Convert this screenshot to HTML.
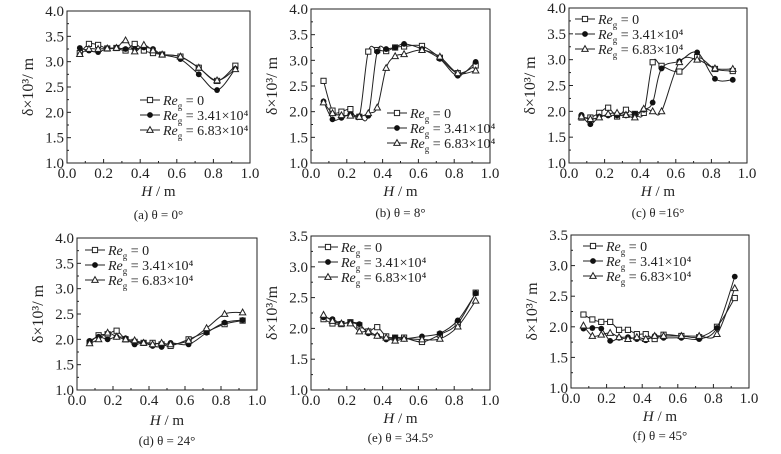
<!DOCTYPE html>
<html><head><meta charset="utf-8"><style>
body{margin:0;background:#fff}
svg{display:block;font-family:"Liberation Serif",serif}
</style></head><body>
<svg id="fig" width="781" height="454" viewBox="0 0 781 454"></svg>
<script>
const xVals=[0.07,0.12,0.17,0.22,0.27,0.32,0.37,0.42,0.47,0.52,0.62,0.72,0.82,0.92];
const xTicks=["0.0","0.2","0.4","0.6","0.8","1.0"];
const aS0=[3.17,3.35,3.33,3.26,3.27,3.22,3.35,3.22,3.17,3.14,3.10,2.88,2.62,2.92];
const aS1=[3.27,3.22,3.19,3.26,3.27,3.25,3.25,3.28,3.25,3.14,3.05,2.75,2.44,2.86];
const aS2=[3.15,3.25,3.25,3.26,3.27,3.42,3.20,3.33,3.22,3.14,3.10,2.88,2.63,2.85];
const bS0=[2.60,2.02,2.00,2.05,1.90,3.17,3.20,3.18,3.25,3.27,3.28,3.05,2.75,2.90];
const bS1=[2.20,1.85,1.88,1.95,1.90,1.92,3.17,3.22,3.25,3.32,3.22,3.03,2.70,2.97];
const bS2=[2.18,1.97,1.93,1.92,1.90,1.97,2.08,2.85,3.08,3.12,3.20,3.07,2.75,2.80];
const cS0=[1.88,1.88,1.97,2.07,1.90,2.03,1.95,1.97,2.95,2.88,2.77,3.05,2.82,2.78];
const cS1=[1.93,1.75,1.90,1.92,1.92,1.92,1.95,2.03,2.17,2.83,2.97,3.14,2.63,2.61];
const cS2=[1.90,1.85,1.88,1.95,1.97,1.93,1.88,2.05,2.00,2.00,2.95,3.00,2.83,2.82];
const dS0=[1.93,2.08,2.10,2.17,2.00,1.95,1.93,1.93,1.90,1.87,2.00,2.15,2.30,2.37];
const dS1=[1.97,2.05,2.00,2.05,2.02,1.90,1.93,1.87,1.85,1.93,1.90,2.13,2.33,2.38];
const dS2=[1.92,2.00,2.13,2.05,2.00,1.98,1.93,1.90,1.93,1.90,1.97,2.22,2.50,2.53];
const eS0=[2.15,2.08,2.07,2.10,2.05,1.95,2.02,1.87,1.85,1.85,1.78,1.90,2.08,2.58];
const eS1=[2.18,2.15,2.08,2.10,2.07,1.92,1.88,1.82,1.85,1.83,1.87,1.92,2.13,2.57];
const eS2=[2.22,2.12,2.08,2.08,1.95,1.95,1.88,1.85,1.80,1.83,1.82,1.83,2.03,2.45];
const fS0=[2.20,2.12,2.08,2.08,1.95,1.95,1.88,1.88,1.80,1.87,1.85,1.83,2.00,2.47];
const fS1=[1.97,1.98,1.97,1.77,1.82,1.83,1.80,1.78,1.85,1.82,1.82,1.80,1.98,2.82];
const fS2=[2.02,1.85,1.87,1.90,1.83,1.80,1.83,1.80,1.85,1.85,1.85,1.85,1.88,2.63];
const yTicks4=["1.0","1.5","2.0","2.5","3.0","3.5","4.0"];
const yTicks35=["1.0","1.5","2.0","2.5","3.0","3.5"];

const NS="http://www.w3.org/2000/svg";
const svg=document.getElementById('fig');
function mk(t,a,p){const e=document.createElementNS(NS,t);for(const k in a)e.setAttribute(k,a[k]);(p||svg).appendChild(e);return e;}

const panels=[
 {id:'a',L:67,R:250,T:11,B:163,ymax:4,yt:yTicks4,s:[aS0,aS1,aS2],lg:[140,100],cap:'(a) θ = 0°',ty:196,cy:219,yl:'δ×10³/ m'},
 {id:'b',L:311,R:490,T:9,B:163,ymax:4,yt:yTicks4,s:[bS0,bS1,bS2],lg:[387,113],cap:'(b) θ = 8°',ty:196,cy:217,yl:'δ×10³/ m'},
 {id:'c',L:569,R:747,T:8,B:163,ymax:4,yt:yTicks4,s:[cS0,cS1,cS2],lg:[575,19],cap:'(c) θ =16°',ty:196,cy:217,yl:'δ×10³/ m'},
 {id:'d',L:77,R:257,T:238,B:390,ymax:4,yt:yTicks4,s:[dS0,dS1,dS2],lg:[85,250],cap:'(d) θ = 24°',ty:425,cy:445,yl:'δ×10³/ m'},
 {id:'e',L:311,R:490,T:236,B:390,ymax:3.5,yt:yTicks35,s:[eS0,eS1,eS2],lg:[318,247],cap:'(e) θ = 34.5°',ty:423,cy:442,yl:'δ×10³/m'},
 {id:'f',L:571,R:749,T:235,B:388,ymax:3.5,yt:yTicks35,s:[fS0,fS1,fS2],lg:[583,246],cap:'(f) θ = 45°',ty:421,cy:440,yl:'δ×10³/ m'}
];
const labels=['0','3.41×10⁴','6.83×10⁴'];

function marker(g,k,x,y){
 let m;
 if(k===0)m=mk('rect',{x:x-2.6,y:y-2.6,width:5.2,height:5.2,fill:'#fff',stroke:'#222','stroke-width':1},g);
 else if(k===1)m=mk('circle',{cx:x,cy:y,r:2.9,fill:'#111'},g);
 else m=mk('polygon',{points:`${x},${y-3.4} ${x-3.2},${y+2.4} ${x+3.2},${y+2.4}`,fill:'#fff',stroke:'#222','stroke-width':1},g);
 
 
}
function spline(pts){
 let d=`M${pts[0][0]},${pts[0][1]}`;
 for(let i=0;i<pts.length-1;i++){
  const p0=pts[Math.max(0,i-1)],p1=pts[i],p2=pts[i+1],p3=pts[Math.min(pts.length-1,i+2)];
  const c1x=p1[0]+(p2[0]-p0[0])/6,c1y=p1[1]+(p2[1]-p0[1])/6;
  const c2x=p2[0]-(p3[0]-p1[0])/6,c2y=p2[1]-(p3[1]-p1[1])/6;
  d+=` C${c1x},${c1y} ${c2x},${c2y} ${p2[0]},${p2[1]}`;
 }
 return d;
}

panels.forEach(P=>{
 const g=mk('g',{});
 
 
 const sx=v=>P.L+(P.R-P.L)*v;
 const sy=v=>P.B-(P.B-P.T)*(v-1)/(P.ymax-1);
 const fr=mk('rect',{x:P.L,y:P.T,width:P.R-P.L,height:P.B-P.T,fill:'none',stroke:'#222','stroke-width':1},g);
 
 
 xTicks.forEach((t,i)=>{
  const x=sx(i*0.2);
  mk('line',{x1:x,y1:P.B,x2:x,y2:P.B-4,stroke:'#222'},g);
  if(i<5)mk('line',{x1:sx(i*0.2+0.1),y1:P.B,x2:sx(i*0.2+0.1),y2:P.B-2,stroke:'#222'},g);
  const tx=mk('text',{x:x,y:P.B+15,'font-size':15,'text-anchor':'middle',fill:'#222'},g);
  tx.textContent=t;
  
  
 });
 P.yt.forEach((t,i)=>{
  const y=sy(1+i*0.5);
  mk('line',{x1:P.L,y1:y,x2:P.L+4,y2:y,stroke:'#222'},g);
  if(i<P.yt.length-1)mk('line',{x1:P.L,y1:sy(1.25+i*0.5),x2:P.L+2,y2:sy(1.25+i*0.5),stroke:'#222'},g);
  const tx=mk('text',{x:P.L-3,y:y+5,'font-size':15,'text-anchor':'end',fill:'#222'},g);
  tx.textContent=t;
  
  
 });
 const yc=(P.T+P.B)/2, yx=P.L-34;
 const yl=mk('text',{x:yx,y:yc,'font-size':16,'text-anchor':'middle',fill:'#222',transform:`rotate(-90 ${yx} ${yc})`},g);
 yl.textContent=P.yl;
 
 
 const xl=mk('text',{x:(P.L+P.R)/2,y:P.ty,'font-size':15,'text-anchor':'middle',fill:'#222'},g);
 xl.innerHTML='<tspan font-style="italic">H</tspan> / m';
 
 
 const cp=mk('text',{x:(P.L+P.R)/2,y:P.cy,'font-size':13,'text-anchor':'middle',fill:'#222'},g);
 cp.textContent=P.cap;
 
 
 P.s.forEach((vals,k)=>{
  const pts=vals.map((v,i)=>[sx(xVals[i]),sy(v)]);
  const ln=mk('path',{d:spline(pts),fill:'none',stroke:'#222','stroke-width':1},g);
  
  
  pts.forEach(p=>marker(g,k,p[0],p[1]));
 });
 labels.forEach((lb,k)=>{
  const [lx,ly]=[P.lg[0],P.lg[1]+k*15];
  const lg=mk('g',{},g);
  
  
  mk('line',{x1:lx,y1:ly,x2:lx+20,y2:ly,stroke:'#222'},lg);
  marker(lg,k,lx+10,ly);
  const t=mk('text',{x:lx+23,y:ly+5,'font-size':14,fill:'#222'},lg);
  t.innerHTML='<tspan font-style="italic">Re</tspan><tspan font-size="9" dy="4">g</tspan><tspan dy="-4"> = '+lb+'</tspan>';
 });
});
</script>
</body></html>
